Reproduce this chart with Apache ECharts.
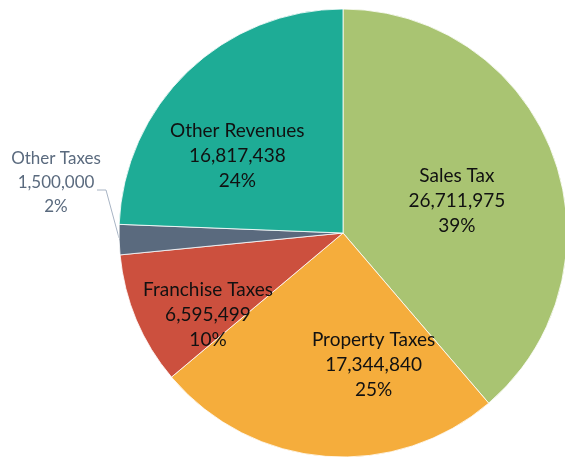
<!DOCTYPE html>
<html>
<head>
<meta charset="utf-8">
<script src="https://cdn.jsdelivr.net/npm/echarts@6/dist/echarts.min.js"></script>
<style>
  html, body { margin: 0; padding: 0; background: #fff; }
  #chart { width: 565px; height: 457px; }
</style>
</head>
<body>
<div id="chart"></div>
<script>
const categories = ['Sales Tax', 'Property Taxes', 'Franchise Taxes', 'Other Taxes', 'Other Revenues']
const amounts    = [26711975, 17344840, 6595499, 1500000, 16817438]
const colors     = ['#a9c472', '#f5ad3c', '#cc503e', '#5a6a7e', '#1eac96']

// nudges so the inside labels sit where the reference puts them
const labelShift = [[6, 8], [40, 17], [-29, 37], [0, 0], [-26, 6]]

const total = amounts.reduce((a, b) => a + b, 0)
const fmt = v => v.toLocaleString('en-US')

const chart = echarts.init(document.getElementById('chart'))
chart.setOption({
  animation: false,
  series: [{
    type: 'pie',
    center: [343, 233],
    radius: 224,
    startAngle: 90,
    clockwise: true,
    data: categories.map((name, i) => ({
      name,
      value: amounts[i],
      itemStyle: { color: colors[i] },
      label: i === 3
        ? { position: 'outside', color: '#5a6a7e', overflow: 'none', fontSize: 17, lineHeight: 24 }
        : { position: 'inside', color: '#111' },
      labelLine: i === 3
        ? { show: true, length: 12, length2: 8, lineStyle: { color: '#a8b4c4', width: 1 } }
        : { show: false },
    })),
    itemStyle: { borderColor: '#fff', borderWidth: 0.8 },
    label: {
      fontFamily: 'Lato',
      fontSize: 19,
      lineHeight: 25,
      align: 'center',
      formatter: p => p.name + '\n' + fmt(p.value) + '\n' + Math.round(p.value / total * 100) + '%',
    },
    labelLayout: p => {
      if (p.dataIndex === 3) {
        return { x: 56, y: 183, align: 'center', verticalAlign: 'middle',
                 labelLinePoints: [[119, 238], [106, 190], [97, 190]] }
      }
      const s = labelShift[p.dataIndex]
      return { dx: s[0], dy: s[1] }
    },
  }],
})
</script>
</body>
</html>
